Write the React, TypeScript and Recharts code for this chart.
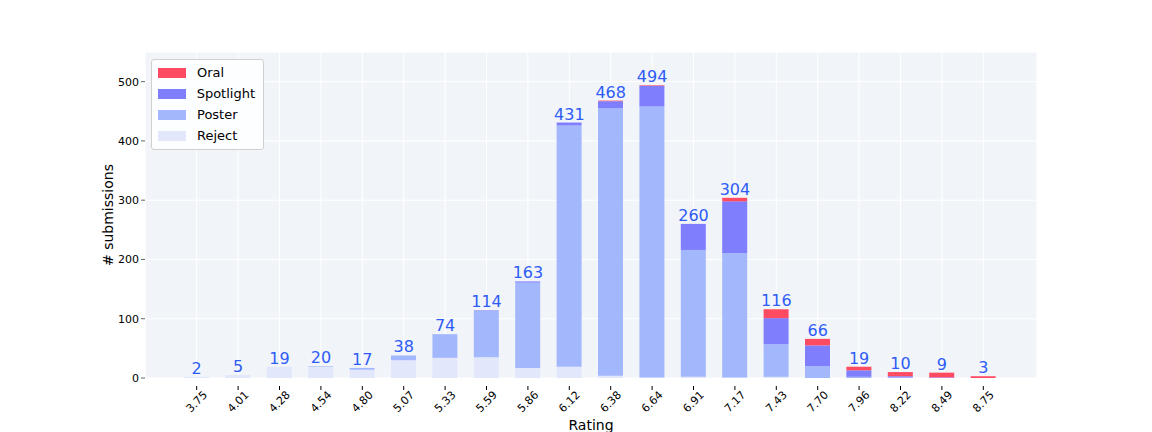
import React from "react";
import {
  ComposedChart,
  Bar,
  Line,
  XAxis,
  YAxis,
  CartesianGrid,
  LabelList,
} from "recharts";

const ratings = ["3.75", "4.01", "4.28", "4.54", "4.80", "5.07", "5.33", "5.59", "5.86", "6.12", "6.38", "6.64", "6.91", "7.17", "7.43", "7.70", "7.96", "8.22", "8.49", "8.75"];
const reject = [2, 5, 19, 19, 14, 30, 34, 35, 17, 19, 4, 1, 2, 1, 2, 0, 0, 0, 0, 0];
const poster = [0, 0, 0, 1, 3, 8, 40, 78, 144, 407, 451, 457, 214, 210, 55, 20, 2, 1, 0, 0];
const spotlight = [0, 0, 0, 0, 0, 0, 0, 1, 2, 5, 12, 35, 44, 87, 44, 35, 11, 2, 1, 0];
const oral = [0, 0, 0, 0, 0, 0, 0, 0, 0, 0, 1, 1, 0, 6, 15, 11, 6, 7, 8, 3];
const totals = [2, 5, 19, 20, 17, 38, 74, 114, 163, 431, 468, 494, 260, 304, 116, 66, 19, 10, 9, 3];

const C = {
  oral: "#ff4b61",
  spotlight: "#7f7ffe",
  poster: "#a3b7fd",
  reject: "#e2e7fb",
  label: "#2e5cf5",
  bg: "#f1f5fa",
};

const data = ratings.map((r, i) => ({
  rating: r,
  reject: reject[i],
  poster: poster[i],
  spotlight: spotlight[i],
  oral: oral[i],
  total: totals[i],
}));

const FONT = "DejaVu Sans, sans-serif";

const legendItems = [
  { name: "Oral", color: C.oral },
  { name: "Spotlight", color: C.spotlight },
  { name: "Poster", color: C.poster },
  { name: "Reject", color: C.reject },
];

const LegendBox = () => (
  <div
    style={{
      position: "absolute",
      left: 151,
      top: 59,
      background: "rgba(255,255,255,0.85)",
      border: "1px solid #d0d0d0",
      borderRadius: 3,
      padding: "2px 8px 3px 6px",
      fontFamily: FONT,
      fontSize: 13,
      width: 97,
    }}
  >
    {legendItems.map((it) => (
      <div key={it.name} style={{ display: "flex", alignItems: "center", height: 21 }}>
        <span style={{ width: 28, height: 10, background: it.color, marginRight: 11 }} />
        <span>{it.name}</span>
      </div>
    ))}
  </div>
);

const RotTick = (props: any) => {
  const { x, y, payload } = props;
  return (
    <g transform={`translate(${x},${y + 4})`}>
      <line x1={0} y1={-4} x2={0} y2={0} stroke="#000" />
      <text
        transform="rotate(-45)"
        textAnchor="end"
        dy={12}
        dx={4}
        fontSize={11}
        fontFamily={FONT}
        fill="#000"
      >
        {payload.value}
      </text>
    </g>
  );
};

export default function App() {
  return (
    <div style={{ position: "absolute", left: 0, top: 0, width: 1152, height: 432, background: "#fff" }}>
      <ComposedChart
        width={1152}
        height={432}
        data={data}
        margin={{ top: 52, right: 115, bottom: 0, left: 105 }}
        barSize={25}
      >
        <CartesianGrid stroke="#ffffff" strokeWidth={1} fill={C.bg} />
        <XAxis
          dataKey="rating"
          height={54}
          axisLine={false}
          tickLine={false}
          interval={0}
          padding={{ left: 31, right: 33 }}
          tick={<RotTick />}
          label={{ value: "Rating", position: "insideBottom", offset: 2, fontSize: 14, fontFamily: FONT, fill: "#000" }}
        />
        <YAxis
          width={40}
          domain={[0, 550]}
          ticks={[0, 100, 200, 300, 400, 500]}
          axisLine={false}
          tickSize={4}
          tick={{ fontSize: 11, fontFamily: FONT, fill: "#000" }}
          label={{ value: "# submissions", angle: -90, position: "insideLeft", dx: -2, fontSize: 14, fontFamily: FONT, fill: "#000", style: { textAnchor: "middle" } }}
        />
        <Bar dataKey="reject" stackId="a" fill={C.reject} isAnimationActive={false} />
        <Bar dataKey="poster" stackId="a" fill={C.poster} isAnimationActive={false} />
        <Bar dataKey="spotlight" stackId="a" fill={C.spotlight} isAnimationActive={false} />
        <Bar dataKey="oral" stackId="a" fill={C.oral} isAnimationActive={false} />
        <Line
          dataKey="total"
          stroke="none"
          dot={false}
          activeDot={false}
          isAnimationActive={false}
        >
          <LabelList
            dataKey="total"
            position="top"
            offset={3}
            fill={C.label}
            fontSize={16}
            fontFamily={FONT}
          />
        </Line>
      </ComposedChart>
      <LegendBox />
    </div>
  );
}
